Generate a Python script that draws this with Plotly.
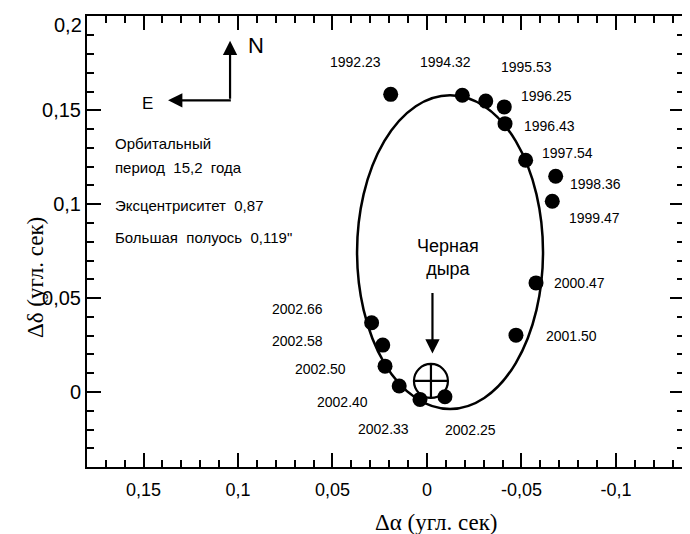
import plotly.graph_objects as go

# ---- data ----
epochs = ["1992.23", "1994.32", "1995.53", "1996.25", "1996.43", "1997.54", "1998.36",
          "1999.47", "2000.47", "2001.50", "2002.25", "2002.33", "2002.40", "2002.50",
          "2002.58", "2002.66"]
d_alpha = [0.0192, -0.0187, -0.0311, -0.0409, -0.0413, -0.0522, -0.0681,
           -0.0663, -0.0577, -0.0471, -0.0095, 0.0037, 0.0147, 0.0222,
           0.0234, 0.0293]
d_delta = [0.1585, 0.1580, 0.1549, 0.1518, 0.1429, 0.1234, 0.1149,
           0.1016, 0.0581, 0.0303, -0.0025, -0.0039, 0.0032, 0.0138,
           0.0250, 0.0369]

black_hole = (-0.0021, 0.0059)
orbit_center = (-0.0122, 0.0745)
orbit_semi = (0.0492, 0.0835)

x_tickvals = [0.15, 0.1, 0.05, 0, -0.05, -0.1]
x_ticktext = ["0,15", "0,1", "0,05", "0", "-0,05", "-0,1"]
y_tickvals = [0.2, 0.15, 0.1, 0.05, 0]
y_ticktext = ["0,2", "0,15", "0,1", "0,05", "0"]

info_lines = ["Орбитальный", "период\u00a0\u00a015,2\u00a0\u00a0года",
              "Эксцентриситет\u00a0\u00a00,87", "Большая\u00a0\u00a0полуось\u00a0\u00a00,119\""]

# ---- styles / positions ----
label_offsets = [(-35, -32), (-17, -33), (41, -34), (42, -11), (44, 2), (42, -7), (40, 8),
                 (42, 17), (43, 0), (56, 1), (26, 33), (-36, 30), (-57, 16), (-65, 3),
                 (-85, -4), (-74, -14)]
SANS = "Liberation Sans, Arial, sans-serif"
SERIF = "Liberation Serif, Times New Roman, serif"

fig = go.Figure()

# orbit ellipse
fig.add_shape(type="circle", xref="x", yref="y",
              x0=orbit_center[0] - orbit_semi[0], x1=orbit_center[0] + orbit_semi[0],
              y0=orbit_center[1] - orbit_semi[1], y1=orbit_center[1] + orbit_semi[1],
              line=dict(color="black", width=2.5), layer="below")

fig.add_trace(go.Scatter(x=d_alpha, y=d_delta, mode="markers",
                         marker=dict(size=15, color="black"), hoverinfo="skip",
                         showlegend=False))

fig.add_trace(go.Scatter(x=[black_hole[0]], y=[black_hole[1]], mode="markers",
                         marker=dict(symbol="circle-cross-open", size=34, color="black",
                                     line=dict(width=2.2, color="black")),
                         hoverinfo="skip", showlegend=False))

annotations = []
for t, xv, yv, (dx, dy) in zip(epochs, d_alpha, d_delta, label_offsets):
    annotations.append(dict(x=xv, y=yv, xref="x", yref="y", text=t, showarrow=False,
                            xshift=dx, yshift=-dy, xanchor="center", yanchor="middle",
                            font=dict(family=SANS, size=14, color="black")))

info_y = [0.1324, 0.1197, 0.0995, 0.0824]
for line, yv in zip(info_lines, info_y):
    annotations.append(dict(x=0.1661, y=yv, xref="x", yref="y", text=line, showarrow=False,
                            xanchor="left", yanchor="middle",
                            font=dict(family=SANS, size=15, color="black")))

# compass
annotations.append(dict(x=0.1042, y=0.1870, ax=0.1042, ay=0.1553, xref="x", yref="y",
                        axref="x", ayref="y", text="", showarrow=True, arrowhead=2,
                        arrowsize=1.3, arrowwidth=2.2, arrowcolor="black", standoff=0))
annotations.append(dict(x=0.1370, y=0.1553, ax=0.1030, ay=0.1553, xref="x", yref="y",
                        axref="x", ayref="y", text="", showarrow=True, arrowhead=2,
                        arrowsize=1.3, arrowwidth=2.2, arrowcolor="black", standoff=0))
annotations.append(dict(x=0.0905, y=0.1846, xref="x", yref="y", text="N", showarrow=False,
                        xanchor="center", yanchor="middle",
                        font=dict(family=SANS, size=22, color="black")))
annotations.append(dict(x=0.1481, y=0.1537, xref="x", yref="y", text="E", showarrow=False,
                        xanchor="center", yanchor="middle",
                        font=dict(family=SANS, size=17, color="black")))

# black hole label + arrow
annotations.append(dict(x=-0.0111, y=0.0715, xref="x", yref="y", text="Черная<br>дыра",
                        showarrow=False, xanchor="center", yanchor="middle",
                        font=dict(family=SANS, size=18, color="black")))
annotations.append(dict(x=-0.0029, y=0.0205, ax=-0.0029, ay=0.0535, xref="x", yref="y",
                        axref="x", ayref="y", text="", showarrow=True, arrowhead=2,
                        arrowsize=1.3, arrowwidth=2.2, arrowcolor="black", standoff=0))

# top y tick label sits just below its tick (as in the reference)
annotations.append(dict(x=0, y=y_tickvals[0], xref="paper", yref="y", text=y_ticktext[0],
                        showarrow=False, xanchor="right", yanchor="middle",
                        xshift=-3, yshift=-9,
                        font=dict(family=SANS, size=20, color="black")))

# axis titles
annotations.append(dict(x=0.586, y=-0.122, xref="paper", yref="paper",
                        text="Δα (угл. сек)", showarrow=False, xanchor="center",
                        yanchor="middle",
                        font=dict(family=SERIF, size=23, color="black")))
annotations.append(dict(x=-0.087, y=0.419, xref="paper", yref="paper",
                        text="Δδ (угл. сек)", showarrow=False, textangle=-90,
                        xanchor="center", yanchor="middle",
                        font=dict(family=SERIF, size=23, color="black")))

axis_common = dict(showgrid=False, zeroline=False, showline=True, linecolor="black",
                   linewidth=2, mirror="allticks", ticks="inside", ticklen=14,
                   tickwidth=2, tickcolor="black", automargin=False)

y_axis_text = [""] + y_ticktext[1:]

# page body has an 8px margin, so the figure is sized to fit the 690x534 window
fig.update_layout(
    width=682, height=526,
    margin=dict(l=79, r=6, t=8, b=67),
    paper_bgcolor="white", plot_bgcolor="white",
    xaxis=dict(range=[0.1799, -0.136], tickvals=x_tickvals, ticktext=x_ticktext,
               tickfont=dict(family=SANS, size=18, color="black"),
               ticklabelstandoff=5,
               minor=dict(dtick=0.01, tick0=0, ticks="inside", ticklen=7,
                          tickwidth=2, tickcolor="black"),
               **axis_common),
    yaxis=dict(range=[-0.0399, 0.2002], tickvals=y_tickvals, ticktext=y_axis_text,
               tickfont=dict(family=SANS, size=20, color="black"),
               minor=dict(dtick=0.01, tick0=0, ticks="inside", ticklen=7,
                          tickwidth=2, tickcolor="black"),
               **axis_common),
    annotations=annotations,
    showlegend=False,
)

fig.write_html("out.html")
